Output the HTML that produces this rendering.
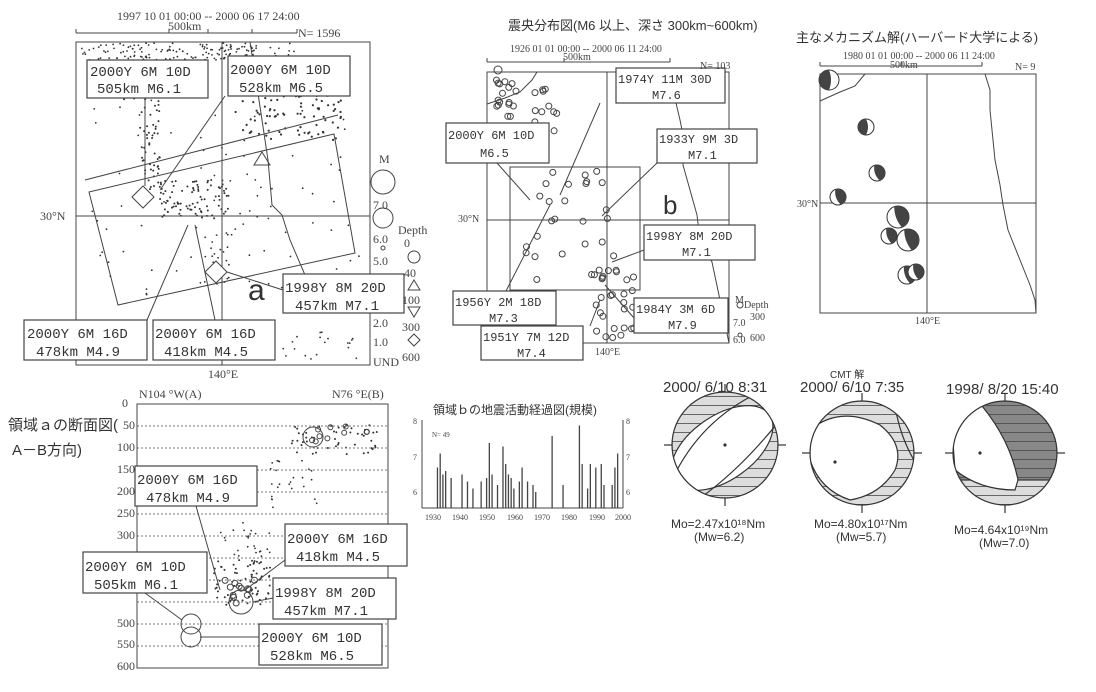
<!DOCTYPE html>
<html><head><meta charset="utf-8">
<style>
html,body{margin:0;padding:0;background:#fff;}
svg{display:block;}
.m{font-family:"Liberation Mono","DejaVu Sans Mono",monospace;fill:#333;}
.s{font-family:"Liberation Sans","Noto Sans CJK JP",sans-serif;fill:#333;}
.n{font-family:"Liberation Serif","Noto Sans CJK JP",serif;fill:#444;}
</style></head>
<body>
<svg id="sv" width="1096" height="692" viewBox="0 0 1096 692" xmlns="http://www.w3.org/2000/svg">
<defs>
<pattern id="hat" width="8" height="9" patternUnits="userSpaceOnUse">
<rect width="8" height="9" fill="#ddd"/><line x1="0" y1="0.5" x2="8" y2="0.5" stroke="#666" stroke-width="1"/>
</pattern>
<pattern id="hatd" width="8" height="9" patternUnits="userSpaceOnUse">
<rect width="8" height="9" fill="#888"/><line x1="0" y1="0.5" x2="8" y2="0.5" stroke="#555" stroke-width="1"/>
</pattern>
<clipPath id="c1"><circle cx="725" cy="445" r="53"/></clipPath>
<clipPath id="c2"><circle cx="862" cy="453" r="52"/></clipPath>
<clipPath id="c3"><circle cx="1005" cy="453" r="52"/></clipPath>
</defs>
<g id="dots" fill="#333" stroke="none"></g>
<g fill="none" stroke="#444" stroke-width="1">
<rect x="76" y="42" width="294" height="323"/>
<line x1="76" y1="33" x2="297" y2="33"/>
<line x1="76" y1="29" x2="76" y2="33"/><line x1="169" y1="29" x2="169" y2="33"/><line x1="208" y1="29" x2="208" y2="33"/><line x1="252" y1="29" x2="252" y2="33"/><line x1="297" y1="29" x2="297" y2="33"/>
<line x1="222" y1="42" x2="222" y2="365"/>
<line x1="76" y1="216" x2="370" y2="216"/>
<polygon points="89,192 334,134 355,253 118,305"/>
<line x1="85" y1="180" x2="338" y2="115"/>
<polygon points="143,186 154,197 143,208 132,197" fill="#fff"/>
<polygon points="216,261 227,272 216,283 205,272" fill="#fff"/>
<polygon points="262,152 270,165 254,165"/>
<path d="M250,42 L256,80 262,120 268,160 272,205 282,215 290,240 305,275"/>
<line x1="145" y1="98" x2="145" y2="186"/>
<line x1="225" y1="96" x2="160" y2="190"/>
<line x1="283" y1="290" x2="227" y2="272"/>
<line x1="147" y1="320" x2="188" y2="225"/>
<line x1="215" y1="320" x2="195" y2="225"/>
<circle cx="383" cy="182" r="12"/><circle cx="383" cy="218" r="10"/><circle cx="383" cy="248" r="2"/>
<circle cx="414" cy="257" r="6"/>
<polygon points="414,280 420,290 408,290"/>
<polygon points="408,307 420,307 414,317"/>
<polygon points="414,334 420,340 414,346 408,340"/>
<rect x="137" y="404" width="251" height="264"/>
<g stroke-dasharray="2,2" stroke="#777">
<line x1="137" y1="426" x2="388" y2="426"/><line x1="137" y1="448" x2="388" y2="448"/><line x1="137" y1="470" x2="388" y2="470"/><line x1="137" y1="492" x2="388" y2="492"/><line x1="137" y1="514" x2="388" y2="514"/><line x1="137" y1="536" x2="388" y2="536"/><line x1="137" y1="558" x2="388" y2="558"/><line x1="137" y1="580" x2="388" y2="580"/><line x1="137" y1="602" x2="388" y2="602"/><line x1="137" y1="624" x2="388" y2="624"/><line x1="137" y1="646" x2="388" y2="646"/>
</g>
<circle cx="313" cy="437" r="10"/><circle cx="241" cy="602" r="12"/><circle cx="191" cy="624" r="10"/><circle cx="191" cy="637" r="10"/>
<line x1="196" y1="506" x2="220" y2="590"/>
<line x1="285" y1="560" x2="245" y2="590"/>
<line x1="273" y1="598" x2="253" y2="602"/>
<line x1="145" y1="593" x2="182" y2="620"/>
<line x1="259" y1="637" x2="200" y2="637"/>
<rect x="487" y="72" width="242" height="271"/>
<line x1="487" y1="62" x2="670" y2="62"/><line x1="487" y1="58" x2="487" y2="62"/><line x1="564" y1="58" x2="564" y2="62"/><line x1="670" y1="58" x2="670" y2="62"/>
<rect x="510" y="167" width="130" height="123"/>
<line x1="487" y1="220" x2="729" y2="220"/>
<line x1="607" y1="72" x2="607" y2="343"/>
<path d="M487,104 L505,98 520,92 532,80 537,72"/>
<path d="M676,103 L680,120 684,140 683,165 690,190 697,215 700,240 712,262 720,300 729,343"/>
<line x1="600" y1="103" x2="560" y2="195"/>
<line x1="497" y1="163" x2="530" y2="200"/>
<line x1="657" y1="163" x2="602" y2="216"/>
<line x1="644" y1="250" x2="612" y2="262"/>
<line x1="506" y1="291" x2="550" y2="205"/>
<line x1="590" y1="326" x2="600" y2="300"/>
<line x1="634" y1="318" x2="605" y2="285"/>
<circle cx="498" cy="70" r="4"/>
<circle cx="740" cy="305" r="3"/><circle cx="740" cy="335" r="2"/>
<rect x="820" y="74" width="216" height="239"/>
<line x1="820" y1="66" x2="982" y2="66"/><line x1="820" y1="62" x2="820" y2="66"/><line x1="902" y1="62" x2="902" y2="66"/><line x1="982" y1="62" x2="982" y2="66"/>
<line x1="820" y1="203" x2="1036" y2="203"/>
<line x1="927" y1="74" x2="927" y2="313"/>
<path d="M820,101 L840,92 855,86 865,74"/>
<path d="M985,74 L990,90 990,110 992,130 995,160 1000,185 1003,205 1008,230 1020,260 1030,285 1035,300 1036,313"/>
<line x1="422" y1="420" x2="422" y2="508"/><line x1="623" y1="420" x2="623" y2="508"/>
<line x1="422" y1="508" x2="623" y2="508"/>
</g>
<g id="bars" stroke="#444" stroke-width="1.3"></g>
<g id="balls"></g>
<g stroke="#333" stroke-width="1.2">
<g clip-path="url(#c1)">
<rect x="672" y="392" width="106" height="106" fill="url(#hat)"/>
<ellipse cx="722" cy="448" rx="58" ry="32" transform="rotate(-35 722 448)" fill="#fff"/>
<path d="M672,480 Q700,420 760,392" fill="none"/>
<path d="M700,498 Q740,470 780,420" fill="none"/>
</g>
<circle cx="725" cy="445" r="53" fill="none"/>
<g clip-path="url(#c2)">
<rect x="810" y="401" width="104" height="104" fill="url(#hat)"/>
<path d="M810,430 Q840,405 880,425 Q905,445 895,470 Q880,495 850,500 Q820,490 810,460 Z" fill="#fff"/>
<path d="M895,405 Q900,440 920,470" fill="none"/>
</g>
<circle cx="862" cy="453" r="52" fill="none"/>
<g clip-path="url(#c3)">
<rect x="953" y="401" width="104" height="104" fill="url(#hatd)"/>
<rect x="953" y="480" width="104" height="30" fill="url(#hat)"/>
<path d="M950,401 L982,406 Q1010,440 1018,480 L1015,490 Q980,490 955,470 Z" fill="#fff"/>
</g>
<circle cx="1005" cy="453" r="52" fill="none"/>
<line x1="725" y1="384" x2="725" y2="392"/><line x1="725" y1="498" x2="725" y2="506"/><line x1="664" y1="445" x2="672" y2="445"/><line x1="778" y1="445" x2="786" y2="445"/>
<line x1="862" y1="393" x2="862" y2="401"/><line x1="862" y1="505" x2="862" y2="513"/><line x1="802" y1="453" x2="810" y2="453"/><line x1="914" y1="453" x2="922" y2="453"/>
<line x1="1005" y1="393" x2="1005" y2="401"/><line x1="1005" y1="505" x2="1005" y2="513"/><line x1="945" y1="453" x2="953" y2="453"/><line x1="1057" y1="453" x2="1065" y2="453"/>
<circle cx="725" cy="445" r="1" fill="#333"/><circle cx="835" cy="462" r="1" fill="#333"/><circle cx="980" cy="453" r="1" fill="#333"/>
</g>
<g fill="#fff" stroke="#444" stroke-width="1.2">
<rect x="87" y="60" width="121" height="38"/><rect x="228" y="56" width="122" height="40"/>
<rect x="283" y="274" width="121" height="39"/>
<rect x="24" y="320" width="123" height="40"/><rect x="153" y="320" width="122" height="40"/>
<rect x="135" y="466" width="122" height="40"/><rect x="285" y="524" width="122" height="42"/>
<rect x="83" y="552" width="124" height="41"/><rect x="273" y="578" width="123" height="41"/>
<rect x="259" y="624" width="123" height="41"/>
<rect x="616" y="68" width="109" height="35"/><rect x="446" y="123" width="103" height="40"/>
<rect x="657" y="129" width="100" height="34"/><rect x="644" y="225" width="111" height="35"/>
<rect x="453" y="291" width="103" height="34"/><rect x="481" y="326" width="102" height="34"/>
<rect x="634" y="298" width="94" height="35"/>
</g>
<g class="m" font-size="14">
<text x="90" y="76">2000Y 6M 10D</text><text x="97" y="93">505km  M6.1</text>
<text x="230" y="74">2000Y 6M 10D</text><text x="239" y="92">528km  M6.5</text>
<text x="285" y="292">1998Y 8M 20D</text><text x="295" y="310">457km  M7.1</text>
<text x="27" y="338">2000Y 6M 16D</text><text x="36" y="356">478km  M4.9</text>
<text x="155" y="338">2000Y 6M 16D</text><text x="164" y="356">418km  M4.5</text>
<text x="137" y="484">2000Y 6M 16D</text><text x="146" y="502">478km  M4.9</text>
<text x="287" y="543">2000Y 6M 16D</text><text x="296" y="561">418km  M4.5</text>
<text x="85" y="571">2000Y 6M 10D</text><text x="94" y="589">505km  M6.1</text>
<text x="275" y="597">1998Y 8M 20D</text><text x="284" y="615">457km  M7.1</text>
<text x="261" y="642">2000Y 6M 10D</text><text x="270" y="660">528km  M6.5</text>
</g>
<g class="m" font-size="12">
<text x="618" y="83">1974Y 11M 30D</text><text x="652" y="99">M7.6</text>
<text x="448" y="139">2000Y 6M 10D</text><text x="480" y="157">M6.5</text>
<text x="659" y="143">1933Y 9M 3D</text><text x="688" y="159">M7.1</text>
<text x="646" y="240">1998Y 8M 20D</text><text x="682" y="256">M7.1</text>
<text x="455" y="306">1956Y 2M 18D</text><text x="489" y="322">M7.3</text>
<text x="483" y="341">1951Y 7M 12D</text><text x="517" y="357">M7.4</text>
<text x="636" y="313">1984Y 3M 6D</text><text x="668" y="329">M7.9</text>
</g>
<g class="n" font-size="12">
<text x="117" y="20">1997 10 01 00:00 -- 2000 06 17 24:00</text>
<text x="168" y="30">500km</text>
<text x="298" y="37">N= 1596</text>
<text x="40" y="220">30°N</text>
<text x="208" y="378">140°E</text>
<text x="379" y="163">M</text><text x="373" y="209">7.0</text><text x="373" y="243">6.0</text><text x="373" y="265">5.0</text><text x="373" y="327">2.0</text><text x="373" y="346">1.0</text><text x="373" y="366">UND</text>
<text x="398" y="234">Depth</text><text x="404" y="247">0</text><text x="404" y="277">40</text><text x="402" y="304">100</text><text x="402" y="331">300</text><text x="402" y="361">600</text>
<text x="139" y="398">N104 °W(A)</text><text x="332" y="398">N76 °E(B)</text>
<text x="128" y="407" text-anchor="end">0</text>
<text x="135" y="429" text-anchor="end">50</text><text x="135" y="451" text-anchor="end">100</text><text x="135" y="473" text-anchor="end">150</text><text x="135" y="495" text-anchor="end">200</text><text x="135" y="517" text-anchor="end">250</text><text x="135" y="539" text-anchor="end">300</text><text x="135" y="627" text-anchor="end">500</text><text x="135" y="648" text-anchor="end">550</text><text x="135" y="670" text-anchor="end">600</text>
</g>
<g class="n" font-size="10">
<text x="510" y="52">1926 01 01 00:00 -- 2000 06 11 24:00</text>
<text x="563" y="60">500km</text><text x="700" y="69">N= 103</text>
<text x="458" y="222">30°N</text><text x="595" y="355">140°E</text>
<text x="735" y="303">M</text><text x="744" y="308">Depth</text><text x="733" y="326">7.0</text><text x="750" y="320">300</text><text x="733" y="343">6.0</text><text x="750" y="341">600</text>
<text x="843" y="59">1980 01 01 00:00 -- 2000 06 11 24:00</text>
<text x="890" y="68">500km</text><text x="1015" y="70">N= 9</text>
<text x="797" y="207">30°N</text><text x="915" y="324">140°E</text>
<text x="432" y="437" font-size="7">N= 49</text>
<text x="413" y="424" font-size="8">8</text><text x="413" y="460" font-size="8">7</text><text x="413" y="495" font-size="8">6</text>
<text x="626" y="424" font-size="8">8</text><text x="626" y="460" font-size="8">7</text><text x="626" y="495" font-size="8">6</text>
<text x="425" y="520" font-size="8">1930</text><text x="452" y="520" font-size="8">1940</text><text x="479" y="520" font-size="8">1950</text><text x="507" y="520" font-size="8">1960</text><text x="534" y="520" font-size="8">1970</text><text x="561" y="520" font-size="8">1980</text><text x="589" y="520" font-size="8">1990</text><text x="615" y="520" font-size="8">2000</text>
</g>
<g class="s">
<text x="8" y="430" font-size="15">領域ａの断面図(</text>
<text x="12" y="455" font-size="15">A－B方向)</text>
<text x="508" y="30" font-size="13">震央分布図(M6 以上、深さ 300km~600km)</text>
<text x="796" y="42" font-size="13">主なメカニズム解(ハーバード大学による)</text>
<text x="433" y="414" font-size="12">領域ｂの地震活動経過図(規模)</text>
<text x="830" y="378" font-size="10">CMT 解</text>
<text x="663" y="392" font-size="15">2000/ 6/10  8:31</text>
<text x="800" y="392" font-size="15">2000/ 6/10  7:35</text>
<text x="946" y="394" font-size="15">1998/ 8/20  15:40</text>
<text x="671" y="528" font-size="12">Mo=2.47x10¹⁸Nm</text><text x="694" y="541" font-size="12">(Mw=6.2)</text>
<text x="814" y="528" font-size="12">Mo=4.80x10¹⁷Nm</text><text x="836" y="541" font-size="12">(Mw=5.7)</text>
<text x="954" y="534" font-size="12">Mo=4.64x10¹⁹Nm</text><text x="979" y="547" font-size="12">(Mw=7.0)</text>
<text x="248" y="300" font-size="30">a</text>
<text x="663" y="214" font-size="26">b</text>
</g>
</svg>
<script>
(function(){
var s=12345;function r(){s=(s*1103515245+12345)%2147483648;return s/2147483648;}
var NS="http://www.w3.org/2000/svg",g=document.getElementById("dots");
function dot(x,y,rad,open){var c=document.createElementNS(NS,"circle");c.setAttribute("cx",x.toFixed(1));c.setAttribute("cy",y.toFixed(1));c.setAttribute("r",rad);if(open){c.setAttribute("fill","none");c.setAttribute("stroke","#444");}g.appendChild(c);}
function cl(n,x0,y0,w,h,rad,open){for(var i=0;i<n;i++)dot(x0+r()*w,y0+r()*h,rad||1,open);}
cl(150,80,43,215,17,0.9);cl(60,120,60,40,40,1);cl(80,235,95,110,45,1.1);
cl(50,140,100,20,90,1);cl(90,160,180,70,40,1);cl(80,90,100,270,200,0.9);
cl(30,240,330,120,30,0.9);cl(25,200,230,30,60,0.9);
cl(50,290,425,90,30,1);cl(25,270,460,50,50,0.9);cl(70,210,560,60,45,1);cl(25,220,520,50,40,0.9);
cl(12,225,580,30,25,3,true);cl(10,300,425,70,20,2.5,true);
cl(20,490,80,60,30,3,true);cl(15,500,110,60,45,3,true);cl(30,520,170,100,110,3,true);cl(25,595,270,40,70,3,true);
var bg=document.getElementById("balls");
[[829,80,10],[866,127,8],[877,173,8],[838,197,8],[898,217,11],[889,236,8],[908,240,11],[907,275,9],[916,272,8]].forEach(function(b){
var c=document.createElementNS(NS,"circle");c.setAttribute("cx",b[0]);c.setAttribute("cy",b[1]);c.setAttribute("r",b[2]);c.setAttribute("fill","#fff");c.setAttribute("stroke","#333");bg.appendChild(c);
var p=document.createElementNS(NS,"path");var x=b[0],y=b[1],R=b[2];
p.setAttribute("d","M"+x+","+(y-R)+" A"+R+","+R+" 0 0,1 "+x+","+(y+R)+" Q"+(x-4)+","+y+" "+x+","+(y-R)+"Z");
p.setAttribute("fill","#444");p.setAttribute("transform","rotate("+(b[0]==829||b[0]==866?180:-20)+" "+x+" "+y+")");bg.appendChild(p);});
var bars=document.getElementById("bars");
var d=[[1932,6.7],[1933,7.1],[1934,6.5],[1935,6.6],[1937,6.4],[1941,6.5],[1943,6.3],[1945,6.1],[1948,6.3],[1950,6.4],[1951,7.4],[1952,6.5],[1954,6.2],[1956,7.3],[1957,6.8],[1958,6.5],[1959,6.4],[1960,6.1],[1962,6.3],[1963,6.7],[1965,6.3],[1967,6.2],[1968,6.0],[1974,7.6],[1978,6.2],[1984,7.9],[1985,6.8],[1987,6.1],[1988,6.8],[1990,6.7],[1992,6.8],[1993,6.2],[1996,6.2],[1997,6.7],[1998,7.1]];
d.forEach(function(v){var x=432+(v[0]-1930)*2.73,y=492-(v[1]-6)*35;var l=document.createElementNS(NS,"line");l.setAttribute("x1",x);l.setAttribute("x2",x);l.setAttribute("y1",y);l.setAttribute("y2",508);bars.appendChild(l);});
})();
</script>
</body></html>
